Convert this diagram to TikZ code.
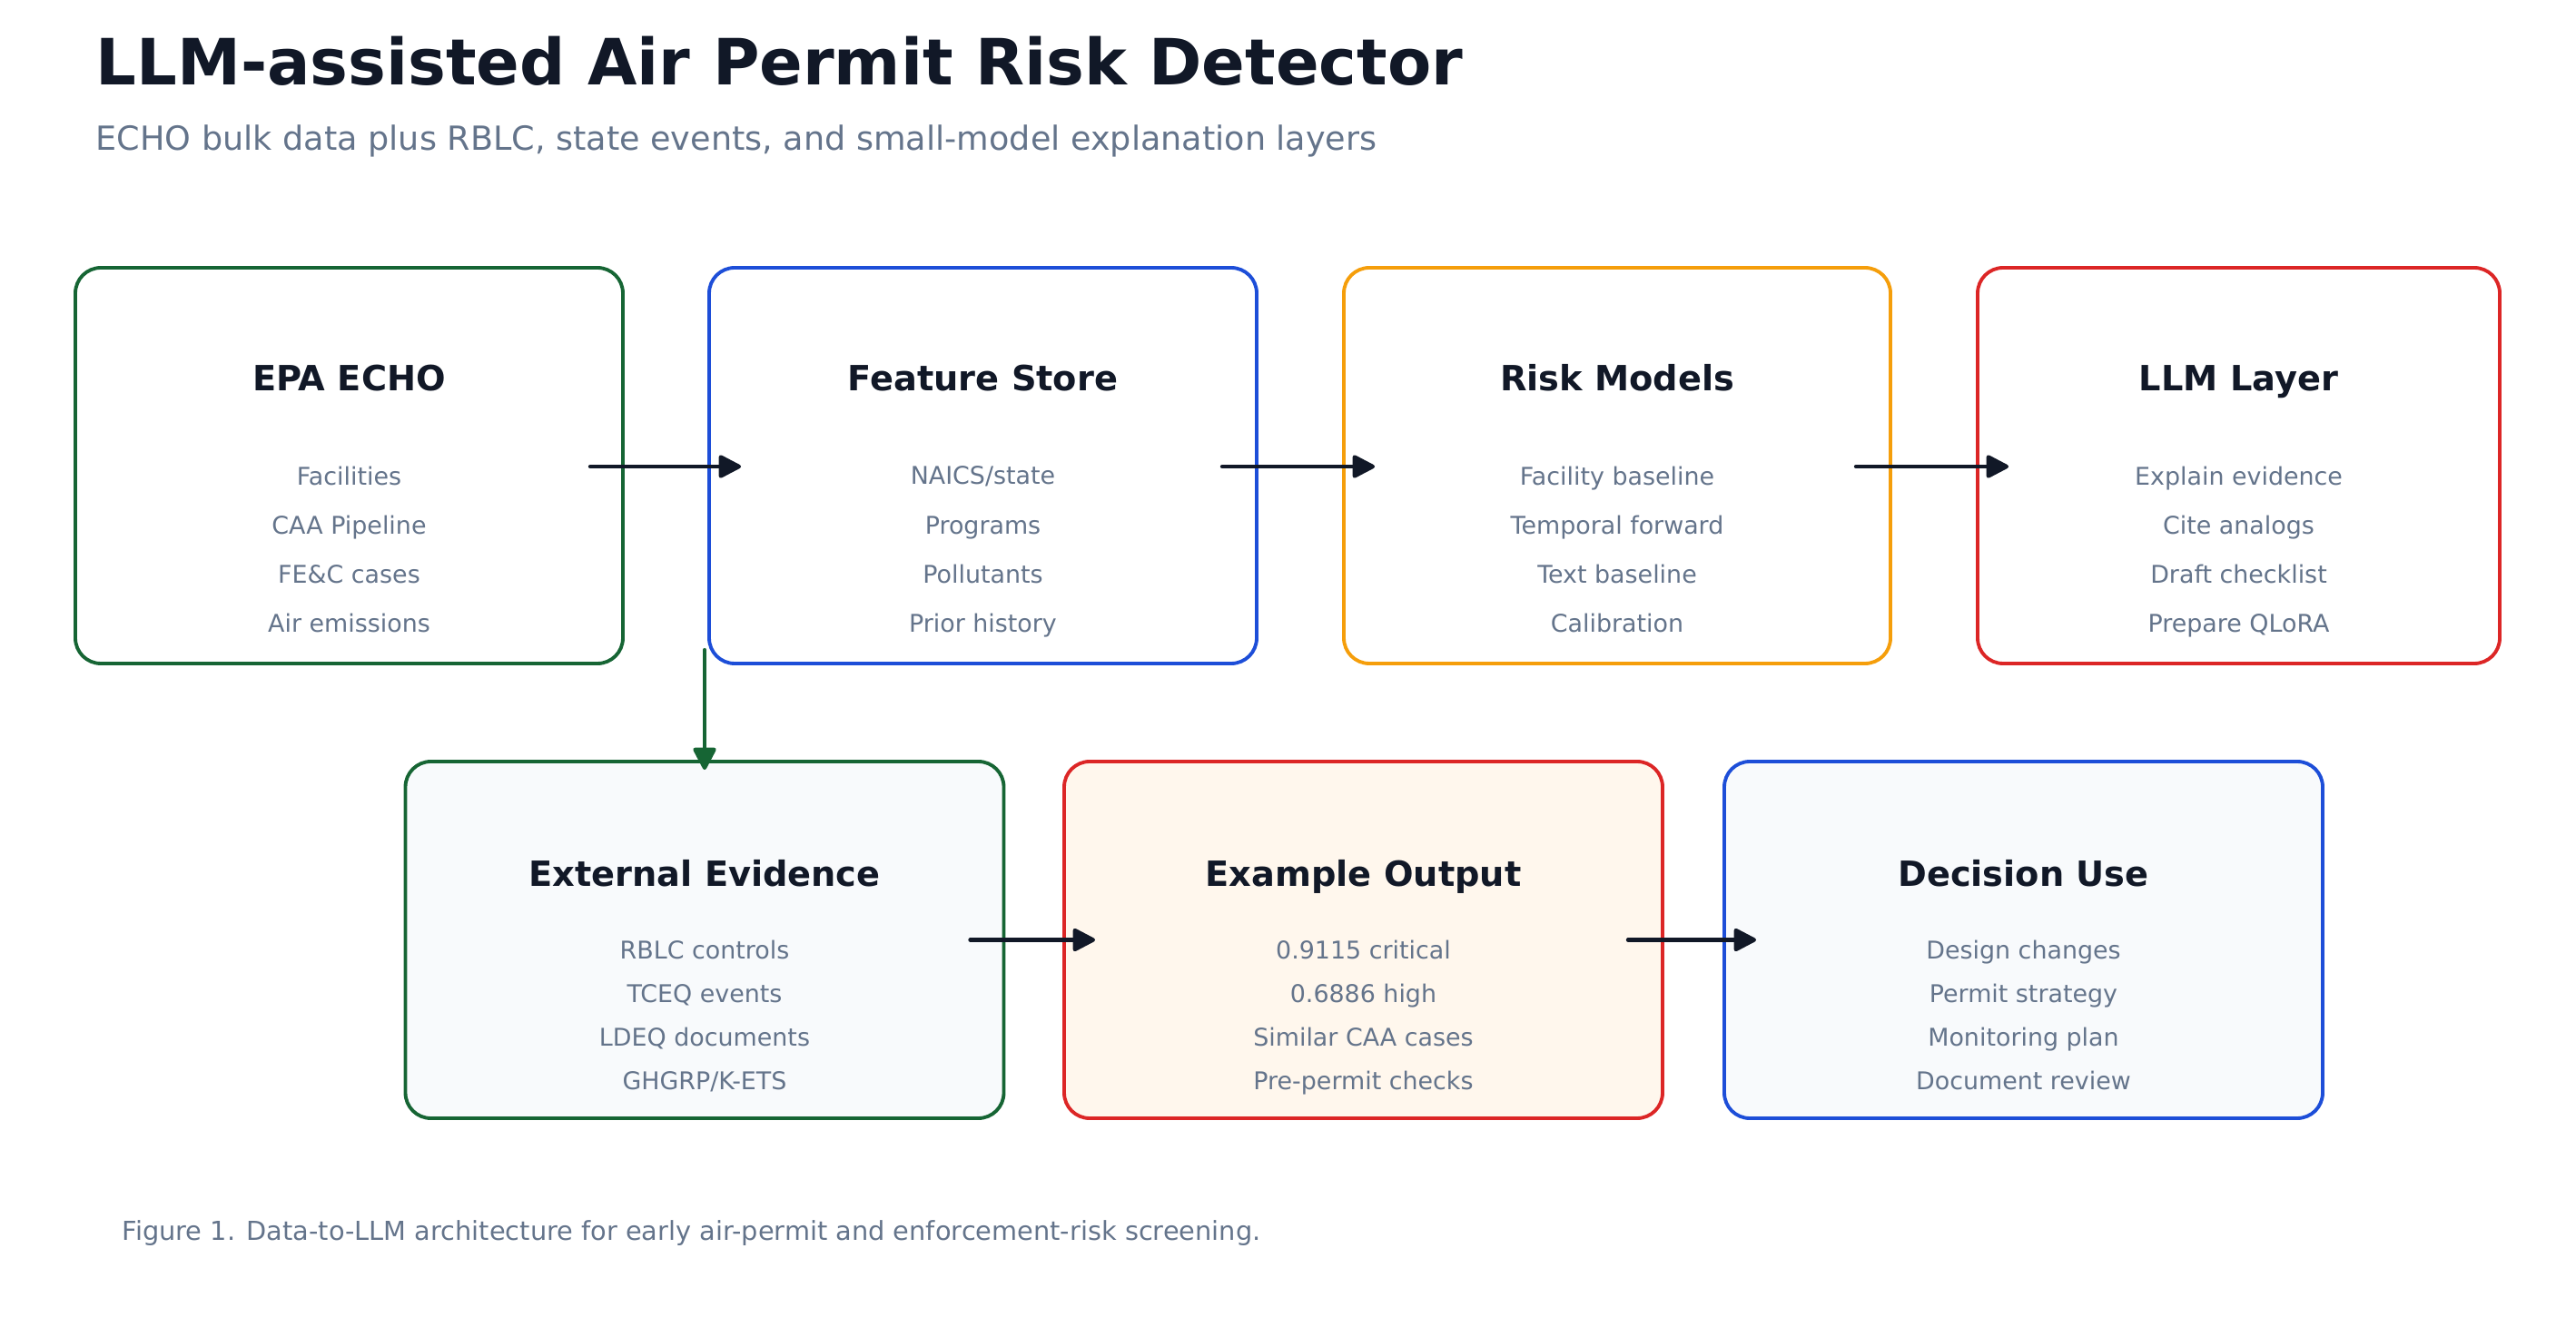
\documentclass[tikz,border=0pt]{standalone}
\usepackage{fontspec}
\setmainfont{DejaVu Sans}
\usepackage{tikz}
\usetikzlibrary{arrows.meta,calc,positioning}
\definecolor{airInk}{HTML}{111827}
\definecolor{airSlate}{HTML}{64748B}
\definecolor{airGreen}{HTML}{166534}
\definecolor{airBlue}{HTML}{1D4ED8}
\definecolor{airOrange}{HTML}{F59E0B}
\definecolor{airRed}{HTML}{DC2626}
\definecolor{airPaper}{HTML}{F8FAFC}
\definecolor{airCream}{HTML}{FFF7ED}
\tikzset{
  flow/.style={-{Triangle[length=2.7mm, width=2.7mm, round]},
    line width=1.2pt, draw=airInk, line cap=round},
  stage box/.style={rectangle, rounded corners=2.8mm, line width=1.1pt,
    fill=white, minimum height=4.36cm, inner sep=0pt},
  low box/.style={stage box, fill=airPaper, minimum height=3.93cm,
    minimum width=6.59cm},
  stage title/.style={font=\fontsize{10.9}{13}\selectfont\bfseries,
    text=airInk, anchor=base, inner sep=0pt},
  stage items/.style={font=\fontsize{7.65}{15.4}\selectfont,
    text=airSlate, align=center,
    execute at begin node=\vphantom{Ay},
    execute at end node=\vphantom{Ay}},
  low items/.style={stage items, font=\fontsize{7.65}{13.7}\selectfont},
  head text/.style={anchor=base west, inner sep=0pt}
}
\begin{document}
\begin{tikzpicture}
  \useasboundingbox (0,0) rectangle (28.37,-14.73);
  \node[head text, font=\fontsize{20}{24}\selectfont\bfseries, text=airInk]
    (title) at (1.05,-0.94) {LLM-assisted Air Permit Risk Detector};
  \node[head text, font=\fontsize{10.4}{12}\selectfont, text=airSlate]
    (subtitle) at (1.05,-1.66)
    {ECHO bulk data plus RBLC, state events, and small-model explanation layers};

  % top row
  \node[stage box, draw=airGreen, minimum width=6.03cm] (echo) at (3.845,-5.13) {};
  \node[stage title] (echot) at (3.845,-4.31) {EPA ECHO};
  \node[stage items] (echoi) at (3.845,-6.08)
    {Facilities\\CAA Pipeline\\FE\&C cases\\Air emissions};

  \node[stage box, draw=airBlue, minimum width=6.03cm] (feat) at (10.825,-5.13) {};
  \node[stage title] (featt) at (10.825,-4.31) {Feature Store};
  \node[stage items] (feati) at (10.825,-6.08)
    {NAICS/state\\Programs\\Pollutants\\Prior history};

  \node[stage box, draw=airOrange, minimum width=6.02cm] (risk) at (17.81,-5.13) {};
  \node[stage title] (riskt) at (17.81,-4.31) {Risk Models};
  \node[stage items] (riski) at (17.81,-6.08)
    {Facility baseline\\Temporal forward\\Text baseline\\Calibration};

  \node[stage box, draw=airRed, minimum width=5.75cm] (llm) at (24.655,-5.13) {};
  \node[stage title] (llmt) at (24.655,-4.31) {LLM Layer};
  \node[stage items] (llmi) at (24.655,-6.08)
    {Explain evidence\\Cite analogs\\Draft checklist\\Prepare QLoRA};

  % bottom row
  \node[low box, draw=airGreen] (ext) at (7.76,-10.355) {};
  \node[stage title] (extt) at (7.76,-9.76) {External Evidence};
  \node[low items] (exti) at (7.76,-11.21)
    {RBLC controls\\TCEQ events\\LDEQ documents\\GHGRP/K-ETS};

  \node[low box, draw=airRed, fill=airCream] (out) at (15.015,-10.355) {};
  \node[stage title] (outt) at (15.015,-9.76) {Example Output};
  \node[low items] (outi) at (15.015,-11.21)
    {0.9115 critical\\0.6886 high\\Similar CAA cases\\Pre-permit checks};

  \node[low box, draw=airBlue] (dec) at (22.285,-10.355) {};
  \node[stage title] (dect) at (22.285,-9.76) {Decision Use};
  \node[low items] (deci) at (22.285,-11.21)
    {Design changes\\Permit strategy\\Monitoring plan\\Document review};

  \draw[flow] ($(echo.east)+(-0.38,-0.01)$) -- ($(feat.west)+(0.37,-0.01)$);
  \draw[flow] ($(feat.east)+(-0.40,-0.01)$) -- ($(risk.west)+(0.36,-0.01)$);
  \draw[flow] ($(risk.east)+(-0.40,-0.01)$) -- ($(llm.west)+(0.36,-0.01)$);
  \draw[flow, draw=airGreen] ($(ext.north)+(0,1.21)$) -- ($(ext.north)+(0,-0.11)$);
  \draw[flow] ($(ext.east)+(-0.39,0)$) -- ($(out.west)+(0.36,0)$);
  \draw[flow] ($(out.east)+(-0.40,0)$) -- ($(dec.west)+(0.37,0)$);

  \node[head text, font=\fontsize{8.2}{10}\selectfont, text=airSlate]
    (caption) at (1.34,-13.66)
    {Figure 1. Data-to-LLM architecture for early air-permit and enforcement-risk screening.};
\end{tikzpicture}
\end{document}
